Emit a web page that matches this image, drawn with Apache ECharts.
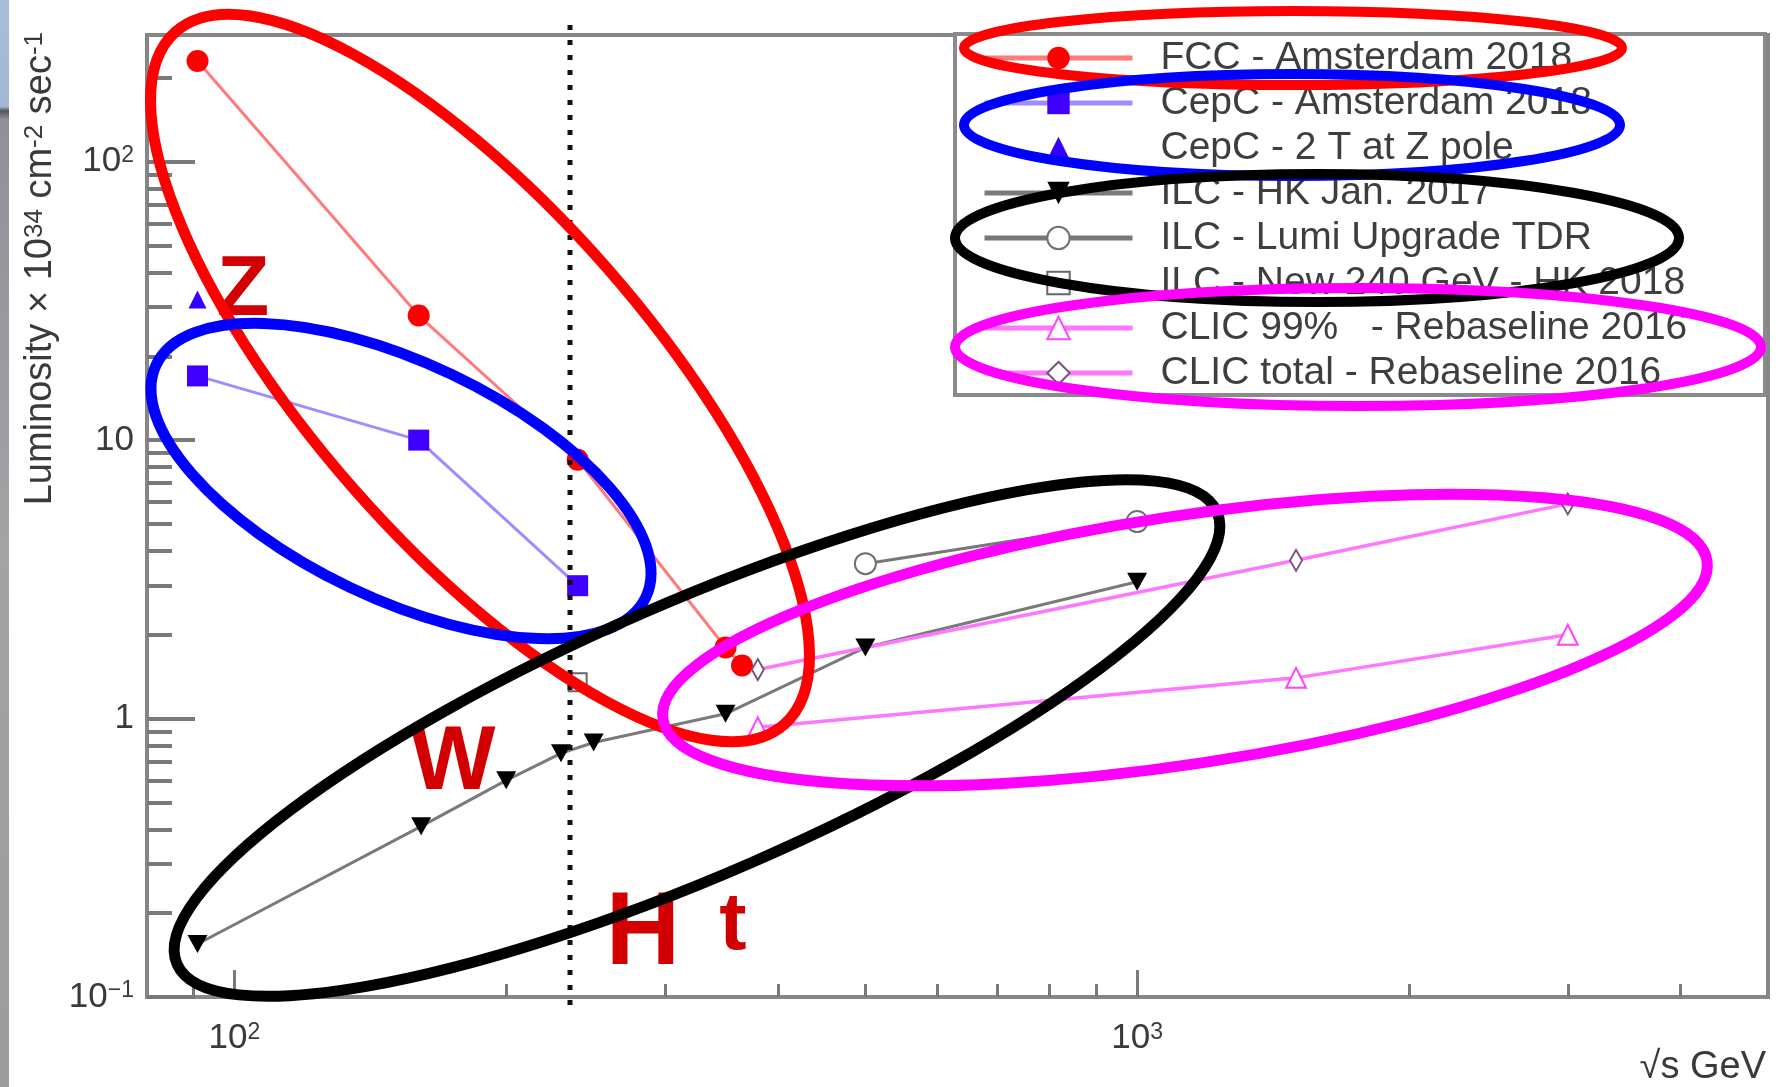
<!DOCTYPE html>
<html>
<head>
<meta charset="utf-8">
<script src="https://cdn.jsdelivr.net/npm/echarts@6/dist/echarts.min.js"></script>
<style>
  html, body { margin: 0; padding: 0; background: #ffffff; }
  #chart { width: 1782px; height: 1087px; }
</style>
</head>
<body>
<div id="chart"></div>
<script>
// Peak luminosity (10^34 cm^-2 s^-1) versus centre-of-mass energy (GeV)
const fccEnergy = [91, 160, 240, 350, 365];
const fccLumi = [230, 28, 8.5, 1.8, 1.55];

const cepcEnergy = [91, 160, 240];
const cepcLumi = [17, 10, 3];

const cepc2TEnergy = [91];
const cepc2TLumi = [32];

const ilcEnergy = [91, 161, 200, 230, 250, 350, 500, 1000];
const ilcLumi = [0.155, 0.41, 0.6, 0.75, 0.82, 1.04, 1.8, 3.1];

const ilcUpgEnergy = [500, 1000];
const ilcUpgLumi = [3.6, 5.1];

const ilcNewEnergy = [240];
const ilcNewLumi = [1.35];

const clic99Energy = [380, 1500, 3000];
const clic99Lumi = [0.93, 1.4, 2.0];

const clicTotEnergy = [380, 1500, 3000];
const clicTotLumi = [1.5, 3.7, 5.9];

const seriesNames = [
  'FCC - Amsterdam 2018',
  'CepC - Amsterdam 2018',
  'CepC - 2 T at Z pole',
  'ILC - HK Jan. 2017',
  'ILC - Lumi Upgrade TDR',
  'ILC - New 240 GeV - HK 2018',
  'CLIC 99%   - Rebaseline 2016',
  'CLIC total - Rebaseline 2016'
];

// Axis ranges and tick positions (in GeV and in 10^34 units)
const xRange = [80, 5000];
const yRange = [0.1, 285];
const xMajorTicks = [100, 1000];
const xMinorTicks = [90, 200, 300, 400, 500, 600, 700, 800, 900, 2000, 3000, 4000];
const yMajorTicks = [0.1, 1, 10, 100];
const yMinorTicks = [0.2, 0.3, 0.4, 0.5, 0.6, 0.7, 0.8, 0.9,
                     2, 3, 4, 5, 6, 7, 8, 9,
                     20, 30, 40, 50, 60, 70, 80, 90, 200];

// Both axes are logarithmic: values are placed on value axes in log10 space
const lg = Math.log10;
const toPoints = (e, l) => e.map((v, i) => [lg(v), lg(l[i])]);

function powerLabel(val) {
  const e = Math.round(val);
  if (e === 0) return '{n|1}';
  if (e === 1) return '{n|10}';
  return '{n|10}{s|' + (e < 0 ? '\u2212' : '') + Math.abs(e) + '}';
}

const FONT = 'Liberation Sans';
const tickColor = '#7a7a7a';
const labelColor = '#3a3a3a';

const labelRich = {
  n: { fontFamily: FONT, fontSize: 35, color: labelColor },
  s: { fontFamily: FONT, fontSize: 23, color: labelColor, verticalAlign: 'top' }
};

const chart = echarts.init(document.getElementById('chart'), null, { renderer: 'canvas' });

function makeAxis(range, position, tickLen, tickWidth, ticks, withLabels, margin) {
  return {
    type: 'value', position: position,
    min: lg(range[0]), max: lg(range[1]),
    axisLine: { show: false, onZero: false },
    splitLine: { show: false },
    axisTick: { show: true, inside: true, length: tickLen, customValues: ticks.map(lg),
                lineStyle: { color: tickColor, width: tickWidth } },
    axisLabel: withLabels
      ? { show: true, margin: margin, customValues: ticks.map(lg), formatter: powerLabel, rich: labelRich }
      : { show: false }
  };
}

const option = {
  animation: false,
  backgroundColor: '#ffffff',
  grid: {
    left: 147, right: 14, top: 35, bottom: 90,
    show: true, borderColor: '#868686', borderWidth: 4,
    containLabel: false, outerBoundsMode: 'none'
  },
  xAxis: [
    makeAxis(xRange, 'bottom', 27, 3, xMajorTicks, true, 24),
    makeAxis(xRange, 'bottom', 13, 3, xMinorTicks, false)
  ],
  yAxis: [
    makeAxis(yRange, 'left', 48, 4, yMajorTicks, true, 13),
    makeAxis(yRange, 'left', 25, 4, yMinorTicks, false)
  ],
  legend: {
    orient: 'vertical', left: 977, top: 33,
    itemWidth: 148, itemHeight: 28, itemGap: 5,
    selectedMode: false,
    lineStyle: { width: 5 },
    textStyle: { fontFamily: FONT, fontSize: 39, color: '#3e3e3e', lineHeight: 40, padding: [0, 0, 0, 23] },
    data: seriesNames
  },
  series: [
    {
      name: seriesNames[0], type: 'line', data: toPoints(fccEnergy, fccLumi),
      symbol: 'circle', symbolSize: 22,
      itemStyle: { color: '#ff0000' },
      lineStyle: { color: '#ff7a7a', width: 3 }
    },
    {
      name: seriesNames[1], type: 'line', data: toPoints(cepcEnergy, cepcLumi),
      symbol: 'rect', symbolSize: 21,
      itemStyle: { color: '#3f00ff' },
      lineStyle: { color: '#a08cff', width: 3 }
    },
    {
      name: seriesNames[2], type: 'line', data: toPoints(cepc2TEnergy, cepc2TLumi),
      symbol: 'triangle', symbolSize: 18,
      itemStyle: { color: '#3300ff' },
      lineStyle: { opacity: 0 }
    },
    {
      name: seriesNames[3], type: 'line', data: toPoints(ilcEnergy, ilcLumi),
      symbol: 'triangle', symbolRotate: 180, symbolSize: [20, 18],
      itemStyle: { color: '#000000' },
      lineStyle: { color: '#7a7a7a', width: 3 }
    },
    {
      name: seriesNames[4], type: 'line', data: toPoints(ilcUpgEnergy, ilcUpgLumi),
      symbol: 'emptyCircle', symbolSize: 21,
      itemStyle: { color: '#707070', borderWidth: 3 },
      lineStyle: { color: '#777777', width: 3 }
    },
    {
      name: seriesNames[5], type: 'line', data: toPoints(ilcNewEnergy, ilcNewLumi),
      symbol: 'emptyRect', symbolSize: 18,
      itemStyle: { color: '#666666', borderWidth: 3 },
      lineStyle: { opacity: 0 }
    },
    {
      name: seriesNames[6], type: 'line', data: toPoints(clic99Energy, clic99Lumi),
      symbol: 'emptyTriangle', symbolSize: 20,
      itemStyle: { color: '#ff44ff', borderWidth: 2.5 },
      lineStyle: { color: '#ff77ff', width: 3.5 }
    },
    {
      name: seriesNames[7], type: 'line', data: toPoints(clicTotEnergy, clicTotLumi),
      symbol: 'emptyDiamond', symbolSize: [12, 21],
      itemStyle: { color: '#7a4f7a', borderWidth: 2.5 },
      lineStyle: { color: '#ff77ff', width: 3.5 }
    }
  ],
  graphic: [
    // slide background strip on the far left
    {
      type: 'rect', z: 0, shape: { x: 0, y: 0, width: 9, height: 1087 },
      style: {
        fill: new echarts.graphic.LinearGradient(0, 0, 0, 1, [
          { offset: 0, color: '#a7bfdc' },
          { offset: 0.098, color: '#a2b8d4' },
          { offset: 0.102, color: '#50555c' },
          { offset: 0.11, color: '#8f9196' },
          { offset: 0.5, color: '#a3a3a6' },
          { offset: 1, color: '#9c9c9e' }
        ])
      }
    },
    // legend frame
    {
      type: 'rect', z: 1, shape: { x: 955, y: 34, width: 810, height: 361 },
      style: { fill: '#ffffff', stroke: '#8a8a8a', lineWidth: 4 }
    },
    // dotted marker line
    {
      type: 'line', z: 50, shape: { x1: 570, y1: 25, x2: 570, y2: 1010 },
      style: { stroke: '#111111', lineWidth: 5, lineDash: [5, 10] }
    },
    // axis titles
    {
      type: 'text', z: 50, x: 1766, y: 1068,
      style: { text: '\u221As GeV', fontFamily: FONT, fontSize: 38, fill: '#3a3a3a',
               align: 'right', verticalAlign: 'middle' }
    },
    {
      type: 'text', z: 50, x: 41, y: 32, rotation: Math.PI / 2,
      style: {
        text: '{m|Luminosity \u00D7 10}{s|34}{m| cm}{s|-2}{m| sec}{s|-1}',
        align: 'right', verticalAlign: 'middle',
        rich: {
          m: { fontFamily: FONT, fontSize: 38, fill: '#3a3a3a' },
          s: { fontFamily: FONT, fontSize: 26, fill: '#3a3a3a', verticalAlign: 'top' }
        }
      }
    },
    // process labels
    {
      type: 'text', z: 60, x: 243, y: 291,
      style: { text: 'Z', fontFamily: FONT, fontWeight: 'bold', fontSize: 86, fill: '#d20000',
               align: 'center', verticalAlign: 'middle' }
    },
    {
      type: 'text', z: 60, x: 453, y: 764,
      style: { text: 'W', fontFamily: FONT, fontWeight: 'bold', fontSize: 90, fill: '#d20000',
               align: 'center', verticalAlign: 'middle' }
    },
    {
      type: 'text', z: 60, x: 643, y: 936,
      style: { text: 'H', fontFamily: FONT, fontWeight: 'bold', fontSize: 103, fill: '#d20000',
               align: 'center', verticalAlign: 'middle' }
    },
    {
      type: 'text', z: 60, x: 733, y: 926,
      style: { text: 't', fontFamily: FONT, fontWeight: 'bold', fontSize: 82, fill: '#d20000',
               align: 'center', verticalAlign: 'middle' }
    },
    // grouping ellipses around the curves
    {
      type: 'ellipse', z: 100, x: 480, y: 378, rotation: -48.7 * Math.PI / 180,
      shape: { cx: 0, cy: 0, rx: 461, ry: 168 },
      style: { fill: 'none', stroke: '#ff0000', lineWidth: 11 }
    },
    {
      type: 'ellipse', z: 101, x: 401, y: 481, rotation: -25.4 * Math.PI / 180,
      shape: { cx: 0, cy: 0, rx: 271, ry: 118 },
      style: { fill: 'none', stroke: '#0000ff', lineWidth: 11 }
    },
    {
      type: 'ellipse', z: 102, x: 697, y: 738, rotation: 23.5 * Math.PI / 180,
      shape: { cx: 0, cy: 0, rx: 567, ry: 136 },
      style: { fill: 'none', stroke: '#000000', lineWidth: 11 }
    },
    {
      type: 'ellipse', z: 103, x: 1185, y: 640, rotation: 8.6 * Math.PI / 180,
      shape: { cx: 0, cy: 0, rx: 528, ry: 124 },
      style: { fill: 'none', stroke: '#ff00ff', lineWidth: 11 }
    },
    // ellipses over the legend entries
    {
      type: 'ellipse', z: 100, x: 1293, y: 48,
      shape: { cx: 0, cy: 0, rx: 329, ry: 37 },
      style: { fill: 'none', stroke: '#ff0000', lineWidth: 10 }
    },
    {
      type: 'ellipse', z: 101, x: 1292, y: 125,
      shape: { cx: 0, cy: 0, rx: 328, ry: 51 },
      style: { fill: 'none', stroke: '#0000ff', lineWidth: 10 }
    },
    {
      type: 'ellipse', z: 102, x: 1317, y: 238,
      shape: { cx: 0, cy: 0, rx: 362, ry: 64 },
      style: { fill: 'none', stroke: '#000000', lineWidth: 10 }
    },
    {
      type: 'ellipse', z: 103, x: 1358, y: 347,
      shape: { cx: 0, cy: 0, rx: 403, ry: 59 },
      style: { fill: 'none', stroke: '#ff00ff', lineWidth: 10 }
    }
  ]
};

chart.setOption(option);
</script>
</body>
</html>
